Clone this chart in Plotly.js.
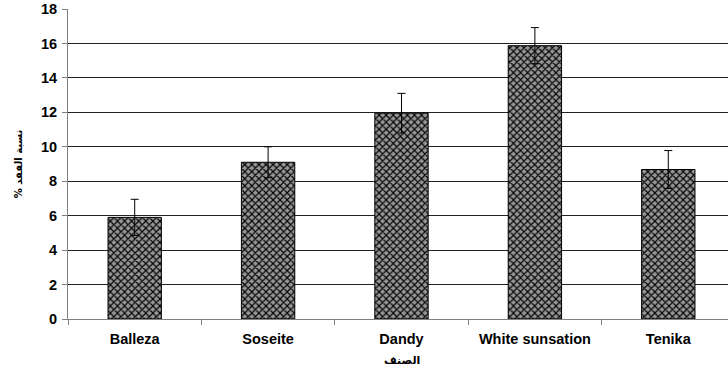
<!DOCTYPE html>
<html>
<head>
<meta charset="utf-8">
<script src="https://cdn.plot.ly/plotly-3.0.1.min.js"></script>
<style>html,body{margin:0;padding:0;background:#fff;}#chart{width:728px;height:374px;}</style>
</head>
<body>
<div id="chart"></div>
<script>
const categories = ["Balleza", "Soseite", "Dandy", "White sunsation", "Tenika"];
const lossValues = [5.9, 9.1, 11.95, 15.87, 8.68];
const errorValues = [1.05, 0.9, 1.15, 1.05, 1.1];
const yTickVals = [0, 2, 4, 6, 8, 10, 12, 14, 16, 18];
const yTickText = yTickVals.map(v => "<b>" + v + "</b>");
const xTickText = categories.map(c => "<b>" + c + "</b>");

const trace = {
  type: "bar",
  x: categories,
  y: lossValues,
  width: 0.4,
  marker: {
    color: "#7a7a7a",
    line: {color: "#000", width: 1},
    pattern: {shape: "x", fgcolor: "#000", bgcolor: "#959595", size: 5, solidity: 0.4, fillmode: "replace"}
  },
  error_y: {type: "data", array: errorValues, visible: true, color: "#000", thickness: 1, width: 4},
  hoverinfo: "none"
};

const layout = {
  width: 728, height: 374,
  margin: {l: 68, r: 0, t: 9, b: 55},
  paper_bgcolor: "#fff", plot_bgcolor: "#fff",
  showlegend: false,
  font: {family: "Liberation Sans, Arial, sans-serif", color: "#000"},
  xaxis: {
    type: "category",
    range: [-0.5, 4.4476],
    tickvals: categories,
    ticktext: xTickText,
    tickson: "boundaries",
    ticks: "outside", ticklen: 5, tickcolor: "#808080",
    ticklabelstandoff: 7,
    showgrid: false,
    showline: true, linecolor: "#808080", linewidth: 1,
    tickfont: {size: 14.5, family: "Liberation Sans, Arial, sans-serif", weight: "bold"}
  },
  yaxis: {
    range: [0, 18],
    tickvals: yTickVals,
    ticktext: yTickText,
    ticks: "outside", ticklen: 5, tickcolor: "#808080",
    ticklabelstandoff: 2,
    showgrid: true, gridcolor: "#222", gridwidth: 1,
    zeroline: false,
    showline: true, linecolor: "#808080", linewidth: 1,
    tickfont: {size: 14.5, family: "Liberation Sans, Arial, sans-serif", weight: "bold"},
    title: {text: "<b>\u200Fنسبة الفقد %\u200F</b>", font: {size: 10, family: "DejaVu Sans, sans-serif"}, standoff: 16}
  },
  annotations: [{
    text: "<b>الصنف</b>",
    xref: "x", x: "Dandy",
    yref: "paper", y: 0, yanchor: "top", yshift: -33,
    showarrow: false,
    font: {size: 11, family: "DejaVu Sans, sans-serif", color: "#000"}
  }]
};

Plotly.newPlot("chart", [trace], layout, {displayModeBar: false, staticPlot: true});
</script>
</body>
</html>
